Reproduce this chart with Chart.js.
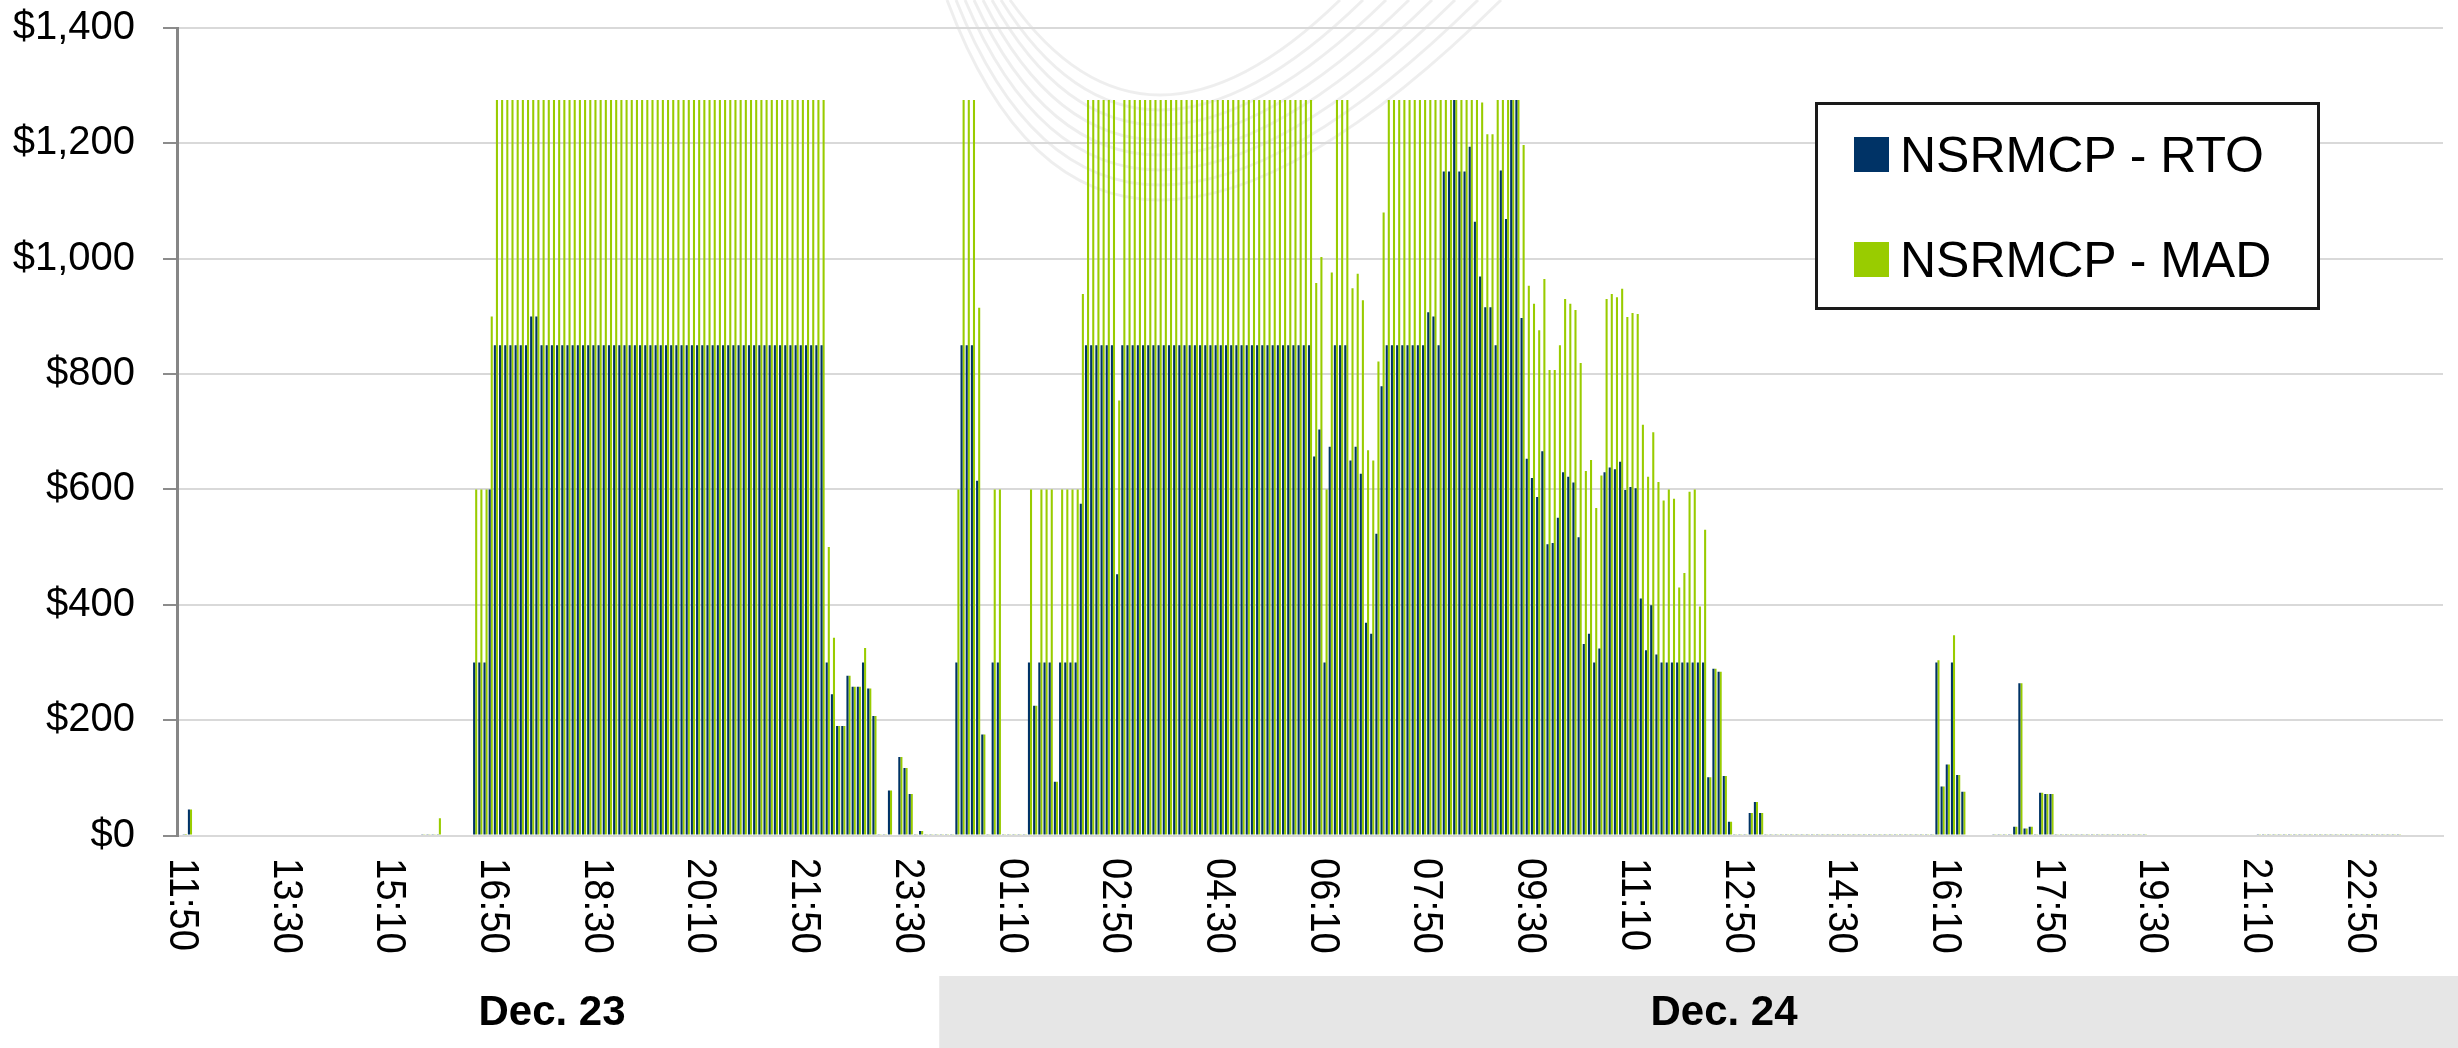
<!DOCTYPE html>
<html>
<head>
<meta charset="utf-8">
<title>NSRMCP - RTO / MAD</title>
<script src="https://cdn.jsdelivr.net/npm/chart.js@4.4.1/dist/chart.umd.min.js"></script>
<style>
  html, body { margin: 0; padding: 0; background: #fff; }
  #wrap { position: relative; width: 2458px; height: 1048px; overflow: hidden; }
  #chart { position: absolute; left: 0; top: 0; }
  #legend {
    position: absolute; left: 1815px; top: 102px; width: 499px; height: 202px;
    border: 3px solid #1a1a1a; background: #fff;
    font-family: Arial, "Liberation Sans", sans-serif; font-size: 50px; color: #000;
  }
  #legend .row { position: absolute; left: 36px; height: 60px; line-height: 60px; white-space: nowrap; }
  #legend .sw { display: inline-block; width: 35px; height: 35px; margin-right: 11px; vertical-align: middle; position: relative; top: -4px; }
</style>
</head>
<body>
<div id="wrap">
  <canvas id="chart" width="2458" height="1048"></canvas>
  <div id="legend"></div>
</div>
<script>
const _ = null; // no interval recorded

// 5 minute intervals, one row = one hour, first interval 11:45 on Dec. 23
const rto = [
  _, 2, 45, _, _, _, _, _, _, _, _, _,
  _, _, _, _, _, _, _, _, _, _, _, _,
  _, _, _, _, _, _, _, _, _, _, _, _,
  _, _, _, _, _, _, _, _, _, _, _, 2,
  2, 2, 2, _, _, _, _, _, _, 300, 300, 300,
  600, 850, 850, 850, 850, 850, 850, 850, 900, 900, 850, 850,
  850, 850, 850, 850, 850, 850, 850, 850, 850, 850, 850, 850,
  850, 850, 850, 850, 850, 850, 850, 850, 850, 850, 850, 850,
  850, 850, 850, 850, 850, 850, 850, 850, 850, 850, 850, 850,
  850, 850, 850, 850, 850, 850, 850, 850, 850, 850, 850, 850,
  850, 850, 850, 850, 850, 300, 245, 190, 190, 277, 258, 258,
  300, 255, 207, 2, 2, 78, _, 136, 117, 72, 2, 8,
  2, 2, 2, 2, 2, 2, 300, 850, 850, 850, 615, 175,
  2, 300, 300, 2, 2, 2, 2, 2, 300, 225, 300, 300,
  300, 93, 300, 300, 300, 300, 575, 850, 850, 850, 850, 850,
  850, 453, 850, 850, 850, 850, 850, 850, 850, 850, 850, 850,
  850, 850, 850, 850, 850, 850, 850, 850, 850, 850, 850, 850,
  850, 850, 850, 850, 850, 850, 850, 850, 850, 850, 850, 850,
  850, 850, 850, 657, 704, 300, 674, 850, 850, 850, 650, 674,
  627, 369, 350, 523, 779, 850, 850, 850, 850, 850, 850, 850,
  850, 907, 900, 850, 1151, 1151, 1275, 1151, 1151, 1194, 1064, 969,
  916, 916, 850, 1153, 1069, 1275, 1275, 897, 653, 620, 587, 666,
  505, 507, 551, 630, 622, 612, 517, 332, 350, 300, 324, 630,
  638, 635, 648, 599, 604, 602, 411, 321, 399, 314, 300, 300,
  300, 300, 300, 300, 300, 300, 300, 101, 289, 284, 103, 24,
  2, 2, 2, 39, 58, 39, 2, 2, 2, 2, 2, 2,
  2, 2, 2, 2, 2, 2, 2, 2, 2, 2, 2, 2,
  2, 2, 2, 2, 2, 2, 2, 2, 2, 2, 2, 2,
  2, 2, 2, 300, 85, 123, 300, 105, 76, _, _, _,
  _, _, 2, 2, 2, 2, 15, 264, 12, 15, 2, 74,
  72, 72, 2, 2, 2, 2, 2, 2, 2, 2, 2, 2,
  2, 2, 2, 2, 2, 2, 2, 2, _, _, _, _,
  _, _, _, _, _, _, _, _, _, _, _, _,
  _, _, _, _, _, 2, 2, 2, 2, 2, 2, 2,
  2, 2, 2, 2, 2, 2, 2, 2, 2, 2, 2, 2,
  2, 2, 2, 2, 2, 2, 2, 2, 2, _, _, _,
  _, _, _, _, _
];

const mad = [
  _, 1, 45, _, _, _, _, _, _, _, _, _,
  _, _, _, _, _, _, _, _, _, _, _, _,
  _, _, _, _, _, _, _, _, _, _, _, _,
  _, _, _, _, _, _, _, _, _, _, _, 2,
  2, 2, 30, _, _, _, _, _, _, 600, 600, 600,
  900, 1275, 1275, 1275, 1275, 1275, 1275, 1275, 1275, 1275, 1275, 1275,
  1275, 1275, 1275, 1275, 1275, 1275, 1275, 1275, 1275, 1275, 1275, 1275,
  1275, 1275, 1275, 1275, 1275, 1275, 1275, 1275, 1275, 1275, 1275, 1275,
  1275, 1275, 1275, 1275, 1275, 1275, 1275, 1275, 1275, 1275, 1275, 1275,
  1275, 1275, 1275, 1275, 1275, 1275, 1275, 1275, 1275, 1275, 1275, 1275,
  1275, 1275, 1275, 1275, 1275, 500, 343, 190, 190, 277, 258, 258,
  325, 255, 207, 2, 2, 78, _, 136, 117, 72, 2, 8,
  2, 2, 2, 2, 2, 2, 600, 1275, 1275, 1275, 915, 175,
  2, 600, 600, 2, 2, 2, 2, 2, 600, 225, 600, 600,
  600, 93, 600, 600, 600, 600, 939, 1275, 1275, 1275, 1275, 1275,
  1275, 754, 1275, 1275, 1275, 1275, 1275, 1275, 1275, 1275, 1275, 1275,
  1275, 1275, 1275, 1275, 1275, 1275, 1275, 1275, 1275, 1275, 1275, 1275,
  1275, 1275, 1275, 1275, 1275, 1275, 1275, 1275, 1275, 1275, 1275, 1275,
  1275, 1275, 1275, 958, 1003, 600, 976, 1275, 1275, 1275, 949, 974,
  928, 668, 650, 822, 1080, 1275, 1275, 1275, 1275, 1275, 1275, 1275,
  1275, 1275, 1275, 1275, 1275, 1275, 1275, 1275, 1275, 1275, 1275, 1271,
  1216, 1216, 1275, 1275, 1275, 1275, 1275, 1197, 953, 922, 876, 965,
  807, 807, 850, 930, 922, 911, 819, 632, 651, 568, 624, 930,
  939, 933, 948, 899, 906, 904, 712, 622, 699, 613, 581, 600,
  584, 430, 455, 596, 600, 397, 530, 101, 289, 284, 103, 24,
  2, 2, 2, 39, 58, 39, 2, 2, 2, 2, 2, 2,
  2, 2, 2, 2, 2, 2, 2, 2, 2, 2, 2, 2,
  2, 2, 2, 2, 2, 2, 2, 2, 2, 2, 2, 2,
  2, 2, 2, 304, 85, 123, 347, 105, 76, _, _, _,
  _, _, 2, 2, 2, 2, 15, 264, 12, 15, 2, 74,
  72, 72, 2, 2, 2, 2, 2, 2, 2, 2, 2, 2,
  2, 2, 2, 2, 2, 2, 2, 2, _, _, _, _,
  _, _, _, _, _, _, _, _, _, _, _, _,
  _, _, _, _, _, 2, 2, 2, 2, 2, 2, 2,
  2, 2, 2, 2, 2, 2, 2, 2, 2, 2, 2, 2,
  2, 2, 2, 2, 2, 2, 2, 2, 2, _, _, _,
  _, _, _, _, _
];

const seriesNames = ['NSRMCP - RTO', 'NSRMCP - MAD'];
const seriesColors = ['#003366', '#99cc00'];
const tickLabels = ['11:50', '13:30', '15:10', '16:50', '18:30', '20:10', '21:50', '23:30',
  '01:10', '02:50', '04:30', '06:10', '07:50', '09:30', '11:10', '12:50',
  '14:30', '16:10', '17:50', '19:30', '21:10', '22:50'];
const dayLabels = ['Dec. 23', 'Dec. 24'];

// category axis: one label per 5 minute interval
const START_MIN = 11 * 60 + 45;
const STEP_MIN = 5;
const categories = rto.map((v, i) => {
  const m = (START_MIN + i * STEP_MIN) % 1440;
  return String(Math.floor(m / 60)).padStart(2, '0') + ':' + String(m % 60).padStart(2, '0');
});

const FONT = 'Arial, "Liberation Sans", sans-serif';

// legend box
const legendEl = document.getElementById('legend');
seriesNames.forEach((name, k) => {
  const row = document.createElement('div');
  row.className = 'row';
  row.style.top = (20 + k * 105) + 'px';
  row.innerHTML = '<span class="sw" style="background:' + seriesColors[k] + '"></span>' + name;
  legendEl.appendChild(row);
});

// faint logo arcs in the background
const watermark = {
  id: 'watermark',
  beforeDraw(chart) {
    const c = chart.ctx;
    c.save();
    c.strokeStyle = 'rgba(0,0,0,0.065)';
    c.lineWidth = 3;
    for (let k = 0; k < 8; k++) {
      const x0 = 1010 - k * 9;
      const x2 = 1340 + k * 23;
      const bottom = 95 + k * 15;
      const cx = (4 * 1160 - x0 - x2) / 2;
      c.beginPath();
      c.moveTo(x0, 0);
      c.quadraticCurveTo(cx, 2 * bottom, x2, 0);
      c.stroke();
    }
    c.restore();
  }
};

// rotated time labels (read top to bottom) + the day band under them
const timeAxis = {
  id: 'timeAxis',
  afterDraw(chart) {
    const xs = chart.scales.x;
    const c = chart.ctx;
    const half = (xs.getPixelForValue(1) - xs.getPixelForValue(0)) / 2;
    const midnight = categories.indexOf('00:00');
    const x0 = xs.getPixelForValue(midnight) - half;

    c.save();
    c.fillStyle = '#e6e6e6';
    c.fillRect(x0, 976, chart.width - x0, 72);

    c.fillStyle = '#000';
    c.font = 'bold 42px ' + FONT;
    c.textAlign = 'center';
    c.textBaseline = 'middle';
    c.fillText(dayLabels[0], 552, 1013);
    c.fillText(dayLabels[1], 1724, 1013);

    // slightly condensed, like the y labels of the original
    c.font = '43px ' + FONT;
    c.textAlign = 'left';
    let from = 0;
    tickLabels.forEach(t => {
      const idx = categories.indexOf(t, from);
      if (idx < 0) return;
      from = idx + 1;
      const x = xs.getPixelForValue(idx) - 3;
      c.save();
      c.translate(x, 858);
      c.rotate(Math.PI / 2);
      c.scale(0.89, 1);
      c.fillText(t, 0, 0);
      c.restore();
    });
    c.restore();
  }
};

const ctx = document.getElementById('chart').getContext('2d');
const chart = new Chart(ctx, {
  type: 'bar',
  data: {
    labels: categories,
    datasets: [
      {
        label: seriesNames[0],
        data: rto,
        backgroundColor: seriesColors[0],
        borderWidth: 0,
        categoryPercentage: 0.8,
        barPercentage: 1.0
      },
      {
        label: seriesNames[1],
        data: mad,
        backgroundColor: seriesColors[1],
        borderWidth: 0,
        categoryPercentage: 0.8,
        barPercentage: 1.0
      }
    ]
  },
  options: {
    responsive: false,
    animation: false,
    devicePixelRatio: 1,
    layout: { padding: { top: 28, right: 15, bottom: 0, left: 0 } },
    plugins: {
      legend: { display: false },
      tooltip: { enabled: false }
    },
    scales: {
      x: {
        ticks: { display: false },
        grid: { display: false },
        border: { color: '#d9d9d9', width: 2 },
        afterFit(scale) { scale.height = 212.5; }
      },
      y: {
        min: 0,
        max: 1400,
        ticks: {
          stepSize: 200,
          padding: 28,
          color: '#000',
          font: { family: FONT, size: 40 },
          callback: v => '$' + v.toLocaleString('en-US')
        },
        grid: { color: '#d9d9d9', lineWidth: 2, tickLength: 14, tickColor: '#8c8c8c', tickWidth: 2 },
        border: { color: '#868686', width: 3 },
        afterFit(scale) {
          scale.width = 177;
          // keep the plot top on the $1,400 line
          scale.paddingTop = 0;
          scale.paddingBottom = 0;
        }
      }
    }
  },
  plugins: [watermark, timeAxis]
});
</script>
</body>
</html>
